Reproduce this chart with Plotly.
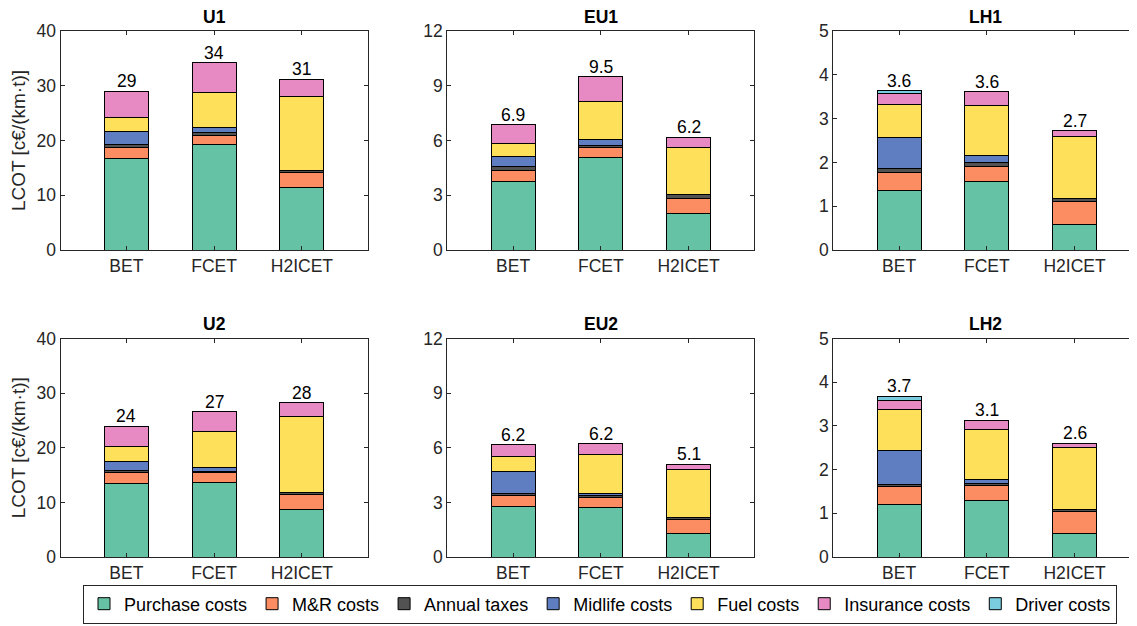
import plotly.graph_objects as go

# page body has an ~8px margin, so the figure is drawn 8px in and coordinates are offset
OFF = 8
W, H = 1137 - OFF, 626 - OFF

panels = ["U1", "EU1", "LH1", "U2", "EU2", "LH2"]
vehicles = ["BET", "FCET", "H2ICET"]
cost_names = ["Purchase costs", "M&R costs", "Annual taxes", "Midlife costs",
              "Fuel costs", "Insurance costs", "Driver costs"]
cost_colors = ["#66c2a5", "#fc8d62", "#525252", "#5f7ec1", "#ffe05a", "#e78ac3", "#79cddf"]

# values per panel, ordered BET, FCET, H2ICET  [c€/(km·t)]
purchase = {"U1": [16.75, 19.25, 11.45], "EU1": [3.74, 5.08, 2.01], "LH1": [1.36, 1.57, 0.59],
            "U2": [13.4, 13.64, 8.7], "EU2": [2.76, 2.72, 1.28], "LH2": [1.20, 1.29, 0.53]}
mr = {"U1": [2.05, 1.75, 2.75], "EU1": [0.63, 0.55, 0.82], "LH1": [0.41, 0.34, 0.51],
      "U2": [2.0, 1.76, 2.75], "EU2": [0.60, 0.55, 0.80], "LH2": [0.41, 0.35, 0.51]}
taxes = {"U1": [0.5, 0.4, 0.4], "EU1": [0.21, 0.12, 0.2], "LH1": [0.09, 0.08, 0.07],
         "U2": [0.4, 0.3, 0.35], "EU2": [0.15, 0.11, 0.11], "LH2": [0.06, 0.04, 0.04]}
midlife = {"U1": [2.4, 0.9, 0.0], "EU1": [0.53, 0.33, 0.0], "LH1": [0.70, 0.17, 0.0],
           "U2": [1.7, 0.6, 0.0], "EU2": [1.17, 0.13, 0.0], "LH2": [0.77, 0.09, 0.0]}
fuel = {"U1": [2.5, 6.5, 13.5], "EU1": [0.75, 2.08, 2.56], "LH1": [0.77, 1.14, 1.43],
        "U2": [2.8, 6.6, 14.0], "EU2": [0.84, 2.10, 2.62], "LH2": [0.93, 1.15, 1.42]}
insurance = {"U1": [4.8, 5.4, 3.1], "EU1": [1.01, 1.34, 0.60], "LH1": [0.25, 0.31, 0.12],
             "U2": [3.6, 3.7, 2.45], "EU2": [0.64, 0.62, 0.29], "LH2": [0.20, 0.21, 0.10]}
driver = {"U1": [0, 0, 0], "EU1": [0, 0, 0], "LH1": [0.06, 0, 0],
          "U2": [0, 0, 0], "EU2": [0, 0, 0], "LH2": [0.11, 0, 0]}
total_labels = {"U1": ["29", "34", "31"], "EU1": ["6.9", "9.5", "6.2"], "LH1": ["3.6", "3.6", "2.7"],
                "U2": ["24", "27", "28"], "EU2": ["6.2", "6.2", "5.1"], "LH2": ["3.7", "3.1", "2.6"]}
y_max = {"U1": 40, "EU1": 12, "LH1": 5, "U2": 40, "EU2": 12, "LH2": 5}
y_dtick = {"U1": 10, "EU1": 3, "LH1": 1, "U2": 10, "EU2": 3, "LH2": 1}

series = [purchase, mr, taxes, midlife, fuel, insurance, driver]

FONT = "Liberation Sans, Arial, Helvetica, sans-serif"
AX = "#262626"

# layout geometry (page pixels)
x_px = [(60.5, 367.7), (447.3, 754.3), (833.3, 1140.3)]
y_px = [(31, 250), (338.5, 557)]

fig = go.Figure()
layout = {}
annotations = []
for p_i, pname in enumerate(panels):
    col = p_i % 3
    row = p_i // 3
    idx = "" if p_i == 0 else str(p_i + 1)
    xa, ya = "x" + idx, "y" + idx
    x0, x1 = x_px[col][0] - OFF, x_px[col][1] - OFF
    pxu = (x1 - x0) / 3.5
    x1c = min(x1, W)
    xr = [0.25, 0.25 + (x1c - x0) / pxu]
    dom_x = [x0 / W, x1c / W]
    y0, y1 = y_px[row][0] - OFF, y_px[row][1] - OFF
    dom_y = [1 - y1 / H, 1 - y0 / H]
    for s_i, s in enumerate(series):
        fig.add_trace(go.Bar(
            x=[1, 2, 3], y=s[pname], name=cost_names[s_i],
            marker=dict(color=cost_colors[s_i], line=dict(color="#000000", width=1)),
            width=0.5, xaxis=xa, yaxis=ya, showlegend=(p_i == 0),
            legendgroup=cost_names[s_i], hoverinfo="skip"))
    layout["xaxis" + idx] = dict(
        domain=dom_x, range=xr, anchor=ya, tickmode="array", tickvals=[1, 2, 3],
        ticktext=vehicles, showline=True, linecolor=AX, linewidth=1, mirror="allticks",
        ticks="inside", ticklen=4, tickcolor=AX, showgrid=False, zeroline=False,
        tickfont=dict(family=FONT, size=17.5, color=AX), fixedrange=True)
    layout["yaxis" + idx] = dict(
        domain=dom_y, range=[0, y_max[pname]], anchor=xa, dtick=y_dtick[pname],
        showline=True, linecolor=AX, linewidth=1, mirror="allticks",
        ticks="inside", ticklen=4, tickcolor=AX, showgrid=False, zeroline=False,
        tickfont=dict(family=FONT, size=17.5, color=AX), fixedrange=True)
    if col == 0:
        layout["yaxis" + idx]["title"] = dict(text="LCOT [c€/(km·t)]",
                                              font=dict(family=FONT, size=19, color=AX),
                                              standoff=5)
    # panel title
    annotations.append(dict(text="<b>" + pname + "</b>", xref="x" + idx + " domain",
                            yref="y" + idx + " domain", x=0.5, y=1.0, yanchor="bottom",
                            yshift=2, showarrow=False,
                            font=dict(family=FONT, size=17.5, color="#000000")))
    # totals
    for v_i in range(3):
        tot = sum(s[pname][v_i] for s in series)
        annotations.append(dict(text=total_labels[pname][v_i], x=v_i + 1, y=tot,
                                xref=xa, yref=ya, yanchor="bottom", showarrow=False,
                                yshift=-2, font=dict(family=FONT, size=17.5, color="#000000")))

fig.update_layout(
    **layout,
    barmode="stack",
    width=W, height=H,
    margin=dict(l=0, r=0, t=0, b=0, autoexpand=False),
    paper_bgcolor="white", plot_bgcolor="white",
    font=dict(family=FONT, size=17, color=AX),
    annotations=annotations,
    legend=dict(orientation="h", x=(600 - OFF) / W, xanchor="center",
                y=1 - (604 - OFF) / H, yanchor="middle",
                bordercolor=AX, borderwidth=1, bgcolor="white",
                font=dict(family=FONT, size=18, color="#000000"),
                traceorder="normal", itemwidth=30, tracegroupgap=0),
)

fig.write_html("out.html")
